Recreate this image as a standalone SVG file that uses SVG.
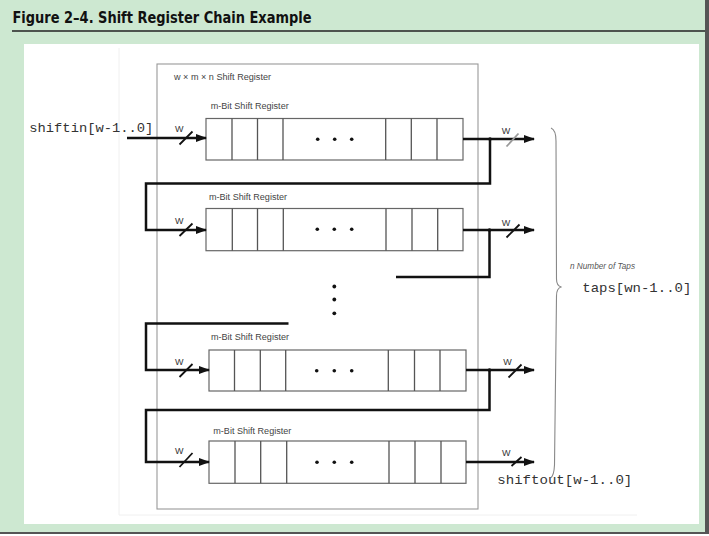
<svg xmlns="http://www.w3.org/2000/svg" width="709" height="536" viewBox="0 0 709 536">
<style>
.lbl{font-family:"Liberation Sans",Arial,sans-serif;font-size:8.3px;fill:#444}
.w{font-family:"Liberation Sans",Arial,sans-serif;font-size:9px;fill:#333}
.mono{font-family:"Liberation Mono","Courier New",monospace;font-size:13.6px;fill:#333}
.reg{fill:#fff;stroke:#666;stroke-width:1.2}
.div{stroke:#555;stroke-width:1.3}
.wire{fill:none;stroke:#111;stroke-width:2.5}
.slash{stroke:#111;stroke-width:1.8}
.dot{fill:#111}
</style>
<defs>
<marker id="ah" markerUnits="userSpaceOnUse" markerWidth="11" markerHeight="8" refX="10" refY="4" orient="auto">
<path d="M0,0 L11,4 L0,8 z" fill="#111"/>
</marker>
</defs>
<!-- background frame -->
<rect x="0" y="0" width="709" height="536" fill="#cde8d1"/>
<rect x="0" y="532" width="709" height="4" fill="#555"/>
<rect x="705" y="0" width="4" height="536" fill="#555"/>
<rect x="0" y="534" width="709" height="2" fill="#fff"/>
<text x="12.5" y="23" font-family="'DejaVu Sans Condensed','Liberation Sans',sans-serif" font-weight="bold" font-size="16.5" fill="#111" textLength="299" lengthAdjust="spacingAndGlyphs">Figure 2–4.  Shift Register Chain Example</text>
<line x1="12" y1="31" x2="705" y2="31" stroke="#222" stroke-width="1.6"/>
<rect x="24" y="44" width="675" height="480" fill="#fff"/>
<path d="M119,48 V515 H637" fill="none" stroke="#f0f0f0" stroke-width="1"/>

<g id="outer">
<rect x="157" y="64" width="321" height="445" fill="none" stroke="#999" stroke-width="1.1"/>
<text class="lbl" x="174" y="79.5" textLength="97" lengthAdjust="spacingAndGlyphs">w × m × n Shift Register</text>
</g>

<g id="reg1">
<text class="lbl" x="210.7" y="108.5" textLength="78" lengthAdjust="spacingAndGlyphs">m-Bit Shift Register</text>
<rect class="reg" x="206" y="118.5" width="257" height="41.5"/>
<path class="div" d="M232,118.5V160M257.5,118.5V160M283,118.5V160M385.7,118.5V160M411.3,118.5V160M437,118.5V160"/>
<circle class="dot" cx="317.7" cy="139.3" r="1.8"/><circle class="dot" cx="334.7" cy="139.3" r="1.8"/><circle class="dot" cx="351.7" cy="139.3" r="1.8"/>
</g>

<g id="reg2">
<text class="lbl" x="209" y="199.5" textLength="78" lengthAdjust="spacingAndGlyphs">m-Bit Shift Register</text>
<rect class="reg" x="206" y="208.5" width="257" height="42.2"/>
<path class="div" d="M232.3,208.5V250.7M257.5,208.5V250.7M283.3,208.5V250.7M386,208.5V250.7M412,208.5V250.7M437.7,208.5V250.7"/>
<circle class="dot" cx="317.3" cy="229.3" r="1.8"/><circle class="dot" cx="334.3" cy="229.3" r="1.8"/><circle class="dot" cx="351.7" cy="229.3" r="1.8"/>
</g>

<g id="vdots">
<circle class="dot" cx="334.3" cy="286.5" r="1.9"/><circle class="dot" cx="334.3" cy="299.5" r="1.9"/><circle class="dot" cx="334.3" cy="313.3" r="1.9"/>
</g>

<g id="reg3">
<text class="lbl" x="211" y="339.5" textLength="78" lengthAdjust="spacingAndGlyphs">m-Bit Shift Register</text>
<rect class="reg" x="209" y="350" width="257" height="41"/>
<path class="div" d="M234.5,350V391M260.3,350V391M285.7,350V391M388.3,350V391M414.5,350V391M440,350V391"/>
<circle class="dot" cx="316.7" cy="370.7" r="1.8"/><circle class="dot" cx="334.3" cy="370.7" r="1.8"/><circle class="dot" cx="351.7" cy="370.7" r="1.8"/>
</g>

<g id="reg4">
<text class="lbl" x="213.3" y="433.5" textLength="78" lengthAdjust="spacingAndGlyphs">m-Bit Shift Register</text>
<rect class="reg" x="209" y="441" width="257" height="42.3"/>
<path class="div" d="M235,441V483.3M260.7,441V483.3M286.7,441V483.3M389,441V483.3M415,441V483.3M441,441V483.3"/>
<circle class="dot" cx="317" cy="462.3" r="1.8"/><circle class="dot" cx="334.3" cy="462.3" r="1.8"/><circle class="dot" cx="351.7" cy="462.3" r="1.8"/>
</g>

<g id="connectors">
<path class="wire" d="M127,138 H206" marker-end="url(#ah)"/>
<path class="wire" d="M463,139 H534" marker-end="url(#ah)"/>
<path class="wire" d="M490,139 V183.5 H146 V230 H206" marker-end="url(#ah)"/>
<path class="wire" d="M463,230 H534" marker-end="url(#ah)"/>
<path class="wire" d="M489.5,230 V277 H396"/>
<path class="wire" d="M288.5,323.5 H146 V370 H209" marker-end="url(#ah)"/>
<path class="wire" d="M466,370 H534" marker-end="url(#ah)"/>
<path class="wire" d="M489.5,370 V410 H146 V462 H209" marker-end="url(#ah)"/>
<path class="wire" d="M466,462 H534" marker-end="url(#ah)"/>
<circle class="dot" cx="490" cy="139" r="1.8"/><circle class="dot" cx="489.5" cy="230" r="1.8"/><circle class="dot" cx="489.5" cy="370" r="1.8"/>
<line class="slash" x1="179.5" y1="144.5" x2="192.5" y2="131.5"/>
<line class="slash" x1="179.5" y1="236" x2="192.5" y2="223.5"/>
<line class="slash" x1="179.5" y1="377" x2="192.5" y2="364"/>
<line class="slash" x1="179.5" y1="467" x2="192.5" y2="453"/>
<line class="slash" x1="506.5" y1="146.5" x2="518.5" y2="133.5" style="stroke:#999"/>
<line class="slash" x1="506.5" y1="237.5" x2="519.5" y2="224.5"/>
<line class="slash" x1="508.5" y1="377.5" x2="521.5" y2="364.5"/>
<line class="slash" x1="511.5" y1="466" x2="521.5" y2="457"/>
<text class="w" x="175" y="131.5">W</text>
<text class="w" x="175" y="223.5">W</text>
<text class="w" x="175" y="365">W</text>
<text class="w" x="175" y="454">W</text>
<text class="w" x="501.7" y="134">W</text>
<text class="w" x="501.7" y="226">W</text>
<text class="w" x="503.3" y="365">W</text>
<text class="w" x="502" y="456">W</text>
</g>

<g id="brace">
<path d="M551,128 Q556,130 556,141 L556.5,279 Q556.5,286 561.5,287 Q556.5,288 556.5,296 L554.5,465 Q554,476 550.5,478" fill="none" stroke="#888" stroke-width="1.1"/>
<text x="570" y="269" font-family="'Liberation Sans',Arial,sans-serif" font-style="italic" font-size="8.5" fill="#555" textLength="65" lengthAdjust="spacingAndGlyphs">n Number of Taps</text>
</g>

<g id="io-labels">
<text class="mono" x="29.3" y="131.5" textLength="124" lengthAdjust="spacingAndGlyphs">shiftin[w-1..0]</text>
<text class="mono" x="582.3" y="291.5" textLength="109" lengthAdjust="spacingAndGlyphs">taps[wn-1..0]</text>
<text class="mono" x="497.3" y="483.5" textLength="135" lengthAdjust="spacingAndGlyphs">shiftout[w-1..0]</text>
</g>
</svg>
